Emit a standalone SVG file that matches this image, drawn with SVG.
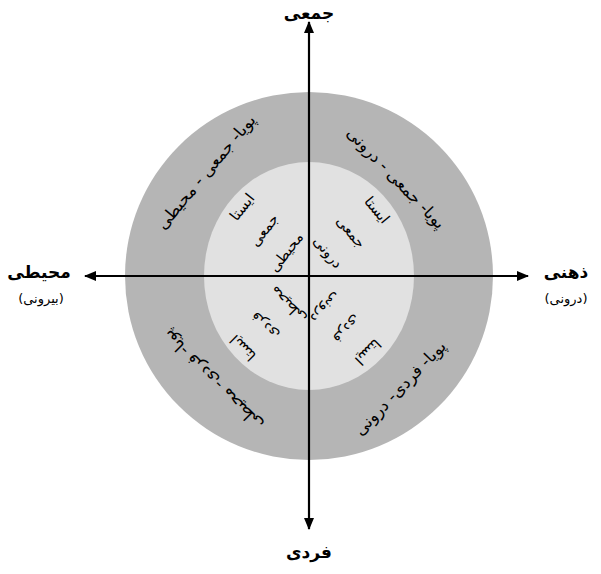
<svg xmlns="http://www.w3.org/2000/svg" width="601" height="574" viewBox="0 0 601 574">
<defs>
<style>
text{font-family:"DejaVu Sans",sans-serif;fill:#000;text-anchor:middle;dominant-baseline:central}
.axl{font-size:17px;font-weight:bold}
.sub{font-size:13px}
.q{font-size:16.5px}
.qi{font-size:14.5px}
.ax{stroke:#000;stroke-width:2.2;fill:none}
</style>
<marker id="ah" viewBox="0 0 12 10" refX="11" refY="5" markerWidth="12" markerHeight="10" markerUnits="userSpaceOnUse" orient="auto">
<path d="M0,0 L12,5 L0,10 Z" fill="#000"/>
</marker>
</defs>
<rect width="601" height="574" fill="#fff"/>
<g id="outer"><ellipse cx="309" cy="276" rx="184" ry="184" fill="#b5b5b5"/></g>
<g id="inner"><ellipse cx="309" cy="276" rx="105" ry="114" fill="#e1e1e1"/></g>
<g id="connectors">
<line class="ax" x1="309" y1="276" x2="309" y2="22" marker-end="url(#ah)"/>
<line class="ax" x1="309" y1="276" x2="309" y2="529" marker-end="url(#ah)"/>
<line class="ax" x1="309" y1="276" x2="85" y2="276" marker-end="url(#ah)"/>
<line class="ax" x1="309" y1="276" x2="528" y2="276" marker-end="url(#ah)"/>
</g>
<g id="top-label"><text class="axl" x="309" y="13">جمعی</text></g>
<g id="bottom-label"><text class="axl" x="309" y="552">فردی</text></g>
<g id="left-label"><text class="axl" x="39" y="272">محیطی</text><text class="sub" x="41" y="298">(بیرونی)</text></g>
<g id="right-label"><text class="axl" x="566" y="272">ذهنی</text><text class="sub" x="566" y="298">(درونی)</text></g>
<g id="q-outer-tl"><text class="q" transform="translate(206,172) rotate(-50)">پویا- جمعی - محیطی</text></g>
<g id="q-outer-tr"><text class="q" transform="translate(396,178) rotate(46)">پویا- جمعی - درونی</text></g>
<g id="q-outer-br"><text class="q" transform="translate(400,388) rotate(-46)">پویا- فردی- درونی</text></g>
<g id="q-outer-bl"><text class="q" transform="translate(213,380) rotate(-135)">پویا- فردی- محیطی</text></g>
<g id="q-inner-tl">
<text class="qi" transform="translate(242,207) rotate(-52)">ایستا</text>
<text class="qi" transform="translate(264,230) rotate(-52)">جمعی</text>
<text class="qi" transform="translate(286,252) rotate(-52)">محیطی</text>
</g>
<g id="q-inner-tr">
<text class="qi" transform="translate(377,210) rotate(50)">ایستا</text>
<text class="qi" transform="translate(351,232) rotate(50)">جمعی</text>
<text class="qi" transform="translate(328,252) rotate(50)">درونی</text>
</g>
<g id="q-inner-br">
<text class="qi" transform="translate(368,352) rotate(135)">ایستا</text>
<text class="qi" transform="translate(347,329) rotate(135)">فردی</text>
<text class="qi" transform="translate(326,308) rotate(135)">درونی</text>
</g>
<g id="q-inner-bl">
<text class="qi" transform="translate(243,348) rotate(-135)">ایستا</text>
<text class="qi" transform="translate(265,326) rotate(-135)">فردی</text>
<text class="qi" transform="translate(288,305) rotate(-135)">محیطی</text>
</g>
</svg>
